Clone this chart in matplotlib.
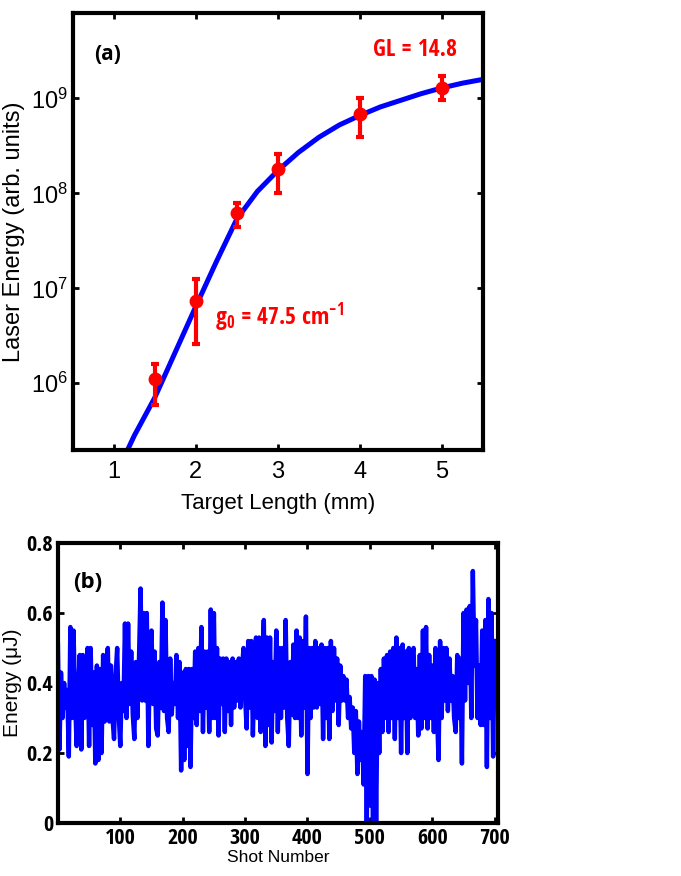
import numpy as np
import matplotlib
matplotlib.use('Agg')
import matplotlib.pyplot as plt

plt.rcParams['font.family'] = ['Liberation Sans', 'DejaVu Sans']
plt.rcParams['mathtext.fontset'] = 'custom'
plt.rcParams['mathtext.rm'] = 'Open Sans Condensed:bold'
plt.rcParams['mathtext.it'] = 'Open Sans Condensed:bold'
plt.rcParams['mathtext.bf'] = 'Open Sans Condensed:bold'

COND = ['Open Sans Condensed', 'DejaVu Sans']

# ---- panel (a) data ----
length_mm = [1.5, 2.0, 2.5, 3.0, 4.0, 5.0]
energy = [1.1e6, 7.3e6, 6.2e7, 1.8e8, 6.9e8, 1.3e9]
err_lo = [5.9e5, 2.6e6, 4.4e7, 1.02e8, 3.9e8, 9.5e8]
err_hi = [1.6e6, 1.24e7, 8.0e7, 2.6e8, 1.0e9, 1.7e9]

fit_x = [1.0, 1.25, 1.5, 1.75, 2.0, 2.25, 2.5, 2.75, 3.0, 3.25, 3.5, 3.75,
         4.0, 4.25, 4.5, 4.75, 5.0, 5.25, 5.5]
fit_log = [4.99, 5.45, 5.85, 6.33, 6.81, 7.28, 7.73, 8.02, 8.24, 8.43, 8.59, 8.72,
           8.82, 8.91, 8.98, 9.05, 9.11, 9.16, 9.20]

# ---- panel (b) data (energy per shot, uJ) ----
shot_energy = [
    0.51, 0.21, 0.43, 0.30, 0.40, 0.33, 0.38, 0.19, 0.56, 0.30, 0.55, 0.36,
    0.22, 0.38, 0.48, 0.21, 0.48, 0.30, 0.37, 0.50, 0.22, 0.50, 0.28, 0.43,
    0.17, 0.45, 0.18, 0.44, 0.20, 0.48, 0.29, 0.45, 0.50, 0.29, 0.45, 0.30,
    0.24, 0.42, 0.50, 0.31, 0.22, 0.40, 0.32, 0.57, 0.30, 0.57, 0.34, 0.49,
    0.31, 0.24, 0.46, 0.30, 0.47, 0.67, 0.35, 0.60, 0.35, 0.60, 0.22, 0.48,
    0.55, 0.34, 0.49, 0.27, 0.25, 0.46, 0.33, 0.63, 0.32, 0.58, 0.30, 0.26,
    0.47, 0.31, 0.40, 0.34, 0.48, 0.30, 0.46, 0.15, 0.43, 0.18, 0.44, 0.22,
    0.44, 0.16, 0.44, 0.30, 0.49, 0.28, 0.50, 0.32, 0.56, 0.26, 0.49, 0.33,
    0.49, 0.26, 0.61, 0.30, 0.60, 0.30, 0.50, 0.25, 0.47, 0.34, 0.47, 0.26,
    0.47, 0.32, 0.46, 0.28, 0.47, 0.33, 0.46, 0.35, 0.47, 0.33, 0.44, 0.50,
    0.36, 0.27, 0.52, 0.33, 0.52, 0.25, 0.44, 0.53, 0.30, 0.53, 0.26, 0.45,
    0.58, 0.22, 0.53, 0.28, 0.53, 0.23, 0.46, 0.32, 0.55, 0.26, 0.50, 0.30,
    0.50, 0.33, 0.58, 0.30, 0.22, 0.46, 0.31, 0.51, 0.30, 0.55, 0.30, 0.53,
    0.25, 0.52, 0.33, 0.59, 0.14, 0.50, 0.30, 0.50, 0.33, 0.52, 0.33, 0.50,
    0.34, 0.51, 0.24, 0.50, 0.30, 0.50, 0.24, 0.52, 0.32, 0.50, 0.35, 0.47,
    0.28, 0.45, 0.35, 0.42, 0.35, 0.41, 0.30, 0.36, 0.27, 0.33, 0.20, 0.32,
    0.14, 0.29, 0.18, 0.26, 0.11, 0.42, 0.00, 0.42, 0.05, 0.42, 0.00, 0.41,
    0.00, 0.40, 0.20, 0.44, 0.26, 0.47, 0.30, 0.48, 0.26, 0.49, 0.30, 0.50,
    0.24, 0.53, 0.30, 0.50, 0.20, 0.51, 0.30, 0.49, 0.20, 0.50, 0.30, 0.48,
    0.50, 0.30, 0.44, 0.25, 0.48, 0.27, 0.55, 0.30, 0.56, 0.27, 0.48, 0.30,
    0.45, 0.26, 0.50, 0.32, 0.18, 0.52, 0.30, 0.50, 0.35, 0.50, 0.32, 0.47,
    0.35, 0.42, 0.30, 0.26, 0.48, 0.30, 0.47, 0.17, 0.60, 0.35, 0.61, 0.40,
    0.62, 0.30, 0.72, 0.45, 0.58, 0.30, 0.45, 0.28, 0.55, 0.28, 0.58, 0.16,
    0.64, 0.30, 0.60, 0.19, 0.52,
]
shots = np.linspace(0, 700, len(shot_energy))

fig = plt.figure(figsize=(6.81, 8.76), dpi=100)

# ---------------- (a) ----------------
ax1 = fig.add_axes([0.107, 0.486, 0.602, 0.499])
ax1.plot(fit_x, 10 ** np.array(fit_log), color='#0000ff', lw=3.6, zorder=2)
energy = np.array(energy)
yerr = [energy - np.array(err_lo), np.array(err_hi) - energy]
ax1.errorbar(length_mm, energy, yerr=yerr, fmt='o', color='#ff0000', ms=9,
             elinewidth=3, capsize=3, capthick=3, zorder=3)
ax1.set_yscale('log')
ax1.set_xlim(0.5, 5.5)
ax1.set_ylim(1.97e5, 7.9e9)
ax1.set_xticks([1, 2, 3, 4, 5])
ax1.set_yticks([1e6, 1e7, 1e8, 1e9])
ax1.yaxis.set_minor_locator(plt.NullLocator())
ax1.tick_params(axis='both', which='major', direction='in', length=4, width=2,
                top=True, right=True, labelsize=17)
ax1.tick_params(axis='x', pad=8)
ax1.set_xlabel('Target Length (mm)', fontsize=16, labelpad=7)
ax1.set_ylabel('Laser Energy (arb. units)', fontsize=17, labelpad=4)
for s in ax1.spines.values():
    s.set_linewidth(3)
ax1.text(0.085, 0.905, '(a)', transform=ax1.transAxes, fontsize=15, fontweight='bold',
         family=['Open Sans', 'DejaVu Sans'], ha='center', va='center')
ax1.text(0.834, 0.915, 'GL = 14.8', transform=ax1.transAxes, fontsize=17, fontweight='bold',
         family=COND, color='#ff0000', ha='center', va='center')
ax1.text(0.346, 0.304, r'g$_{0}$ = 47.5 cm$^{-1}$', transform=ax1.transAxes,
         fontsize=17, fontweight='bold', family=COND, color='#ff0000',
         ha='left', va='center')

# ---------------- (b) ----------------
ax2 = fig.add_axes([0.085, 0.0605, 0.646, 0.3196])
ax2.plot(shots, shot_energy, color='#0000ff', lw=3.2)
ax2.set_xlim(0, 705)
ax2.set_ylim(0, 0.8)
ax2.set_xticks([100, 200, 300, 400, 500, 600, 700])
ax2.set_yticks([0, 0.2, 0.4, 0.6, 0.8])
ax2.set_yticklabels(['0', '0.2', '0.4', '0.6', '0.8'])
ax2.tick_params(axis='both', direction='in', length=4, width=2,
                top=True, right=True, labelsize=16)
for lab in ax2.get_xticklabels() + ax2.get_yticklabels():
    lab.set_fontweight('bold')
    lab.set_family(COND)
ax2.set_xlabel('Shot Number', fontsize=12.5, labelpad=1)
ax2.set_ylabel('Energy (μJ)', fontsize=15, labelpad=3)
for s in ax2.spines.values():
    s.set_linewidth(3)
ax2.text(0.068, 0.86, '(b)', transform=ax2.transAxes, fontsize=16, fontweight='bold',
         family=['Open Sans', 'DejaVu Sans'], ha='center', va='center')

fig.savefig('out.png', dpi=100)
